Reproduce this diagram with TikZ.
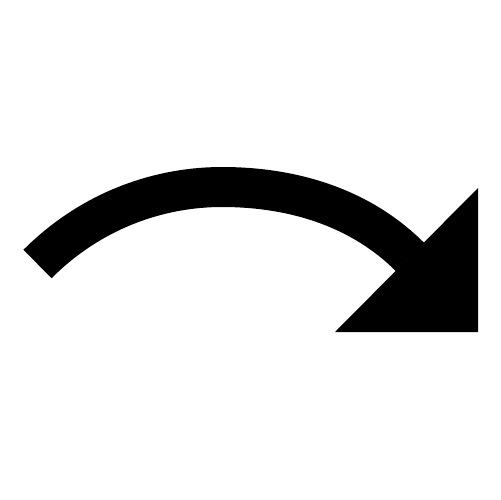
\documentclass[tikz,border=0pt]{standalone}
\begin{document}
\begin{tikzpicture}[x=0.02cm,y=-0.02cm,
  shaft/.style={line width=0.8cm,line cap=butt,black},
  head/.style={fill=black,draw=none}]
\useasboundingbox[fill=white] (0,0) rectangle (500,500);
\coordinate (start) at (37.5,264);
\coordinate (top) at (222,187);
\coordinate (tip) at (410,257);
\draw[shaft] (start) .. controls (92,209.5) and (160,187) .. (top)
  .. controls (292,187) and (360,207) .. (tip);
\path[head] (478,188) -- (478,332) -- (335,332) -- cycle;
\end{tikzpicture}
\end{document}
